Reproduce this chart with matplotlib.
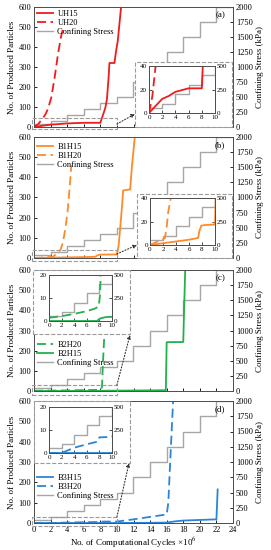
import matplotlib
matplotlib.use('Agg')
import matplotlib.pyplot as plt
from matplotlib.patches import Rectangle
from matplotlib.lines import Line2D

plt.rcParams['font.family'] = ['Liberation Serif', 'DejaVu Serif']
plt.rcParams['mathtext.fontset'] = 'stix'

# ---------------- data ----------------
stress_x = [0, 2, 4, 6, 8, 10, 12, 14, 16, 18, 20, 22, 24]
stress_kpa = [50, 100, 200, 300, 400, 500, 750, 1000, 1250, 1500, 1750, 2000, 2000]

uh15_x = [0, 1, 2, 3, 4, 5, 6, 7, 8, 8.15, 8.3, 8.6, 8.8, 9.0, 9.1, 9.7, 9.9, 10.1, 10.55]
uh15_y = [0, 6, 12, 14.5, 18, 19.5, 21, 21, 21, 40, 58, 95, 140, 250, 320, 320, 380, 430, 620]
uh20_x = [0, 0.5, 1.0, 1.4, 1.7, 2.1, 2.5, 2.9, 3.3, 3.5]
uh20_y = [0, 14, 40, 65, 92, 150, 250, 367, 460, 490]

b1h15_x = [0, 2, 4, 6, 7.4, 7.6, 7.9, 8.5, 10, 10.2, 10.4, 10.6, 10.75, 11.6, 11.8, 12.2]
b1h15_y = [0, 1.5, 3, 4.5, 6, 12, 16.5, 17, 17.5, 60, 150, 250, 335, 340, 450, 620]
b1h20_x = [0, 1, 2, 2.3, 2.6, 2.8, 3.2, 3.5, 3.8, 4.1, 4.3, 4.5]
b1h20_y = [0, 2.5, 5, 6, 17, 28, 40, 80, 150, 250, 350, 460]

b2h20_x = [0, 2, 4, 6, 7.3, 7.9, 8.1, 8.2, 8.3, 8.5, 8.8]
b2h20_y = [1.4, 2.1, 3.1, 4.3, 5.4, 6.4, 11.4, 20, 126, 293, 620]
b2h15_x = [0, 7.6, 8.1, 9, 10, 12, 14, 15.9, 16.0, 18.0, 18.1, 18.25]
b2h15_y = [0, 0, 1.1, 1.7, 1.8, 2.5, 3, 4, 242, 243, 400, 620]

b3h15_x = [0, 10, 14, 16, 17, 18, 20, 22, 22.15]
b3h15_y = [0, 0, 1, 2, 8, 12, 15, 18, 165]
b3h20_x = [0, 2, 4, 6, 7.8, 8, 10, 12, 14, 16, 16.2, 16.4, 16.6, 16.8]
b3h20_y = [0, 0, 2.3, 3.8, 5, 6.8, 7, 18, 30, 42, 100, 280, 450, 620]

x_ticks = [0, 2, 4, 6, 8, 10, 12, 14, 16, 18, 20, 22, 24]
y_ticks = [0, 100, 200, 300, 400, 500, 600]
s_ticks = [0, 250, 500, 750, 1000, 1250, 1500, 1750, 2000]
inset_x_ticks = [0, 2, 4, 6, 8, 10]
inset_s_ticks = [0, 250, 500]

RED = '#f01c1c'
ORANGE = '#ff8a2a'
GREEN = '#22b14c'
BLUE = '#2a85d8'
GREY = '#a6a6a6'
BOX = '#9a9a9a'
SPINE = '#505050'

W, H = 271, 550
fig = plt.figure(figsize=(W / 100, H / 100), dpi=100)


def fx(px):
    return px / W


def fy(py):
    return 1 - py / H


def rect(l, t, r, b):
    return [fx(l), fy(b), fx(r) - fx(l), fy(t) - fy(b)]


DASH = (5, 2.5)

panels = [
    dict(tag='(a)', top=7, bot=127,
         series=[(uh15_x, uh15_y, 'UH15', RED, '-'), (uh20_x, uh20_y, 'UH20', RED, '--')],
         box=(-0.2, -10, 10, 45), ibox=(135, 62, 232, 127), iax=(149, 66, 215, 113),
         iylim=40, iyt=[0, 20, 40], arrow=((10, 15), (135, 114)),
         leg=(0.0, 1.0)),
    dict(tag='(b)', top=137, bot=258,
         series=[(b1h15_x, b1h15_y, 'B1H15', ORANGE, '-'), (b1h20_x, b1h20_y, 'B1H20', ORANGE, '--')],
         box=(-0.2, -15, 10, 40), ibox=(137, 194, 232, 258), iax=(150, 198, 215, 245),
         iylim=40, iyt=[0, 20, 40], arrow=((10, 20), (137, 245)),
         leg=(0.0, 0.975)),
    dict(tag='(c)', top=270, bot=391,
         series=[(b2h20_x, b2h20_y, 'B2H20', GREEN, '--'), (b2h15_x, b2h15_y, 'B2H15', GREEN, '-')],
         box=(-0.2, -20, 10, 30), ibox=(33, 270, 130, 334), iax=(49, 275, 112, 321),
         iylim=20, iyt=[0, 10, 20], arrow=((10, 30), (130, 335)),
         leg=(0.0, 0.44)),
    dict(tag='(d)', top=401, bot=523,
         series=[(b3h15_x, b3h15_y, 'B3H15', BLUE, '-'), (b3h20_x, b3h20_y, 'B3H20', BLUE, '--')],
         box=(-0.2, -15, 10, 30), ibox=(34, 401, 130, 463), iax=(49, 407, 112, 453),
         iylim=20, iyt=[0, 10, 20], arrow=((10, 30), (129, 463)),
         leg=(0.0, 0.43)),
]

TICK = dict(direction='in', length=2.5, width=0.6, labelsize=6, pad=2, colors='black')
ITICK = dict(direction='in', length=2, width=0.5, labelsize=5, pad=1.5, colors='black')

for i, p in enumerate(panels):
    ax = fig.add_axes(rect(34, p['top'], 233, p['bot']))
    ax2 = ax.twinx()
    ax.set_zorder(ax2.get_zorder() + 1)
    ax.patch.set_visible(False)

    ax2.plot(stress_x, stress_kpa, drawstyle='steps-post', color=GREY, lw=1.0)
    ax2.set_ylim(0, 2000)
    ax2.set_yticks(s_ticks)

    handles = []
    for sx, sy, lab, col, ls in p['series']:
        if ls == '--':
            ln, = ax.plot(sx, sy, color=col, lw=1.3, dashes=DASH, label=lab)
        else:
            ln, = ax.plot(sx, sy, color=col, lw=1.3, label=lab)
        handles.append(ln)
    handles.append(Line2D([], [], color=GREY, lw=1.0, label='Confining Stress'))

    ax.set_xlim(0, 24)
    ax.set_ylim(0, 600)
    ax.set_xticks(x_ticks)
    ax.set_yticks(y_ticks)
    ax.tick_params(axis='both', **TICK)
    ax2.tick_params(axis='y', **TICK)
    if i < 3:
        ax.tick_params(axis='x', labelbottom=False)
    else:
        ax.set_xlabel('No. of Computational Cycles ×10$^6$', fontsize=6.5, labelpad=1.5)
    ax.set_ylabel('No. of Produced Particles', fontsize=6.5, labelpad=2)
    ax2.set_ylabel('Confining Stress (kPa)', fontsize=6.5, labelpad=2)
    for a in (ax, ax2):
        for s in a.spines.values():
            s.set_color(SPINE)
            s.set_linewidth(0.7)

    ax.text(0.935, 0.93, p['tag'], transform=ax.transAxes, fontsize=6.5,
            ha='center', va='center')

    ax.legend(handles=handles, loc='upper left', bbox_to_anchor=p['leg'],
              frameon=False, fontsize=6, handlelength=1.9, labelspacing=0.12,
              handletextpad=0.5, borderaxespad=0.2, borderpad=0.2)

    # dashed box in main axes
    x0, y0, x1, y1 = p['box']
    ax.add_patch(Rectangle((x0, y0), x1 - x0, y1 - y0, fill=False, ls='--',
                           lw=0.8, ec=BOX, clip_on=False, zorder=6))

    # inset frame box (white, dashed)
    l, t, r, b = p['ibox']
    ax.add_patch(Rectangle((fx(l), fy(b)), fx(r) - fx(l), fy(t) - fy(b),
                           transform=fig.transFigure, fc='white', ec=BOX,
                           ls='--', lw=0.8, clip_on=False, zorder=8))

    # arrow
    (ax_x, ax_y), (tx, ty) = p['arrow']
    ax.annotate('', xy=(fx(tx), fy(ty)), xycoords='figure fraction',
                xytext=(ax_x, ax_y), textcoords='data',
                arrowprops=dict(arrowstyle='-|>', ls=':', lw=0.8, color='#333333',
                                mutation_scale=5, shrinkA=0, shrinkB=0),
                zorder=7, annotation_clip=False)

    # inset axes
    axi = fig.add_axes(rect(*p['iax']))
    axi2 = axi.twinx()
    axi2.set_zorder(20)
    axi.set_zorder(21)
    axi.patch.set_visible(False)
    axi2.patch.set_facecolor('white')
    axi2.plot(stress_x, stress_kpa, drawstyle='steps-post', color=GREY, lw=1.0)
    axi2.set_ylim(0, 500)
    axi2.set_yticks(inset_s_ticks)
    for sx, sy, lab, col, ls in p['series']:
        if ls == '--':
            axi.plot(sx, sy, color=col, lw=1.3, dashes=DASH)
        else:
            axi.plot(sx, sy, color=col, lw=1.3)
    axi.set_xlim(0, 10)
    axi.set_ylim(0, p['iylim'])
    axi.set_xticks(inset_x_ticks)
    axi.set_yticks(p['iyt'])
    axi.tick_params(axis='both', **ITICK)
    axi2.tick_params(axis='y', **ITICK)
    for a in (axi, axi2):
        for s in a.spines.values():
            s.set_color(SPINE)
            s.set_linewidth(0.7)

fig.savefig('out.png', dpi=100)
